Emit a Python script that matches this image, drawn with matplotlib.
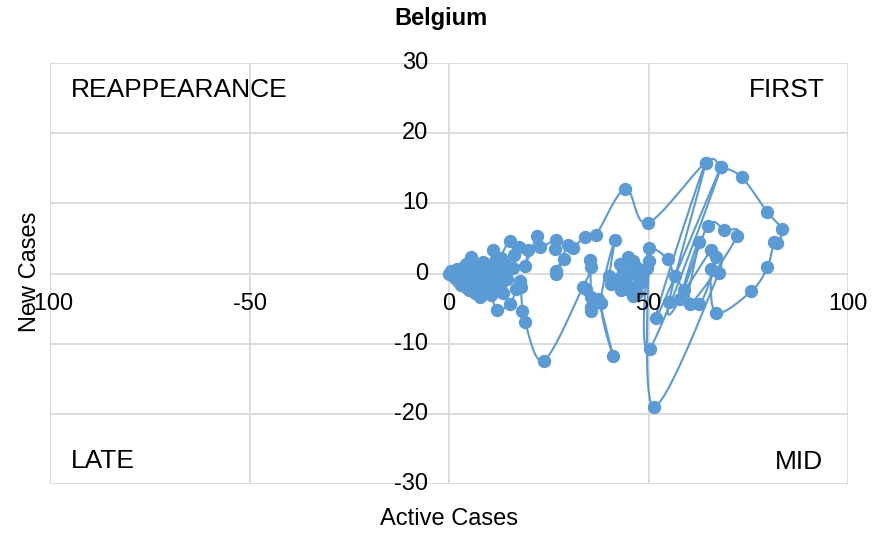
import numpy as np
import matplotlib
matplotlib.use("Agg")
import matplotlib.pyplot as plt

plt.rcParams['font.family'] = ['Liberation Sans', 'DejaVu Sans']

title = "Belgium"
x_label = "Active Cases"
y_label = "New Cases"
x_ticks = [-100, -50, 0, 50, 100]
y_ticks = [-30, -20, -10, 0, 10, 20, 30]
quadrants = ["REAPPEARANCE", "FIRST", "LATE", "MID"]

active = [0.0, 0.6, 1.2, 2.0, 1.8, 2.6, 3.4, 4.0, 4.6, 3.8, 4.4, 5.4, 5.4, 6.2, 6.8, 6.0, 7.2, 7.8, 8.4, 9.2,
          8.6, 7.8, 7.8, 9.0, 10.0, 10.4, 11.1, 11.6, 12.4, 12.0, 11.2, 12.6, 13.4, 14.0, 13.0, 15.3, 16.4, 17.6, 19.8, 19.0,
          22.1, 22.9, 26.8, 26.5, 28.8, 26.9, 26.8, 29.8, 31.1, 34.0, 36.8, 44.2, 49.8, 64.3, 68.2, 73.4, 79.7, 83.4, 82.3, 81.5,
          79.8, 75.8, 66.9, 65.7, 67.6, 51.3, 50.0, 50.3, 68.2, 51.8, 64.3, 55.1, 57.8, 64.8, 69.0, 72.2, 60.3, 62.6, 58.8, 65.7,
          66.9, 62.6, 56.6, 54.9, 50.2, 49.6, 48.8, 47.5, 48.4, 46.9, 46.1, 44.8, 43.6, 42.8, 42.5, 45.2, 44.0, 46.5, 44.4, 47.2,
          46.0, 43.2, 40.7, 40.2, 41.5,
          38.1, 41.1, 37.3, 35.5, 35.7, 34.4, 35.5, 35.4, 35.7, 33.6, 23.8, 19.0, 18.4, 18.0, 17.8, 16.9, 15.3, 12.1, 10.5, 9.0,
          10.6, 12.8, 14.6, 16.0, 13.5, 11.0, 8.5, 6.5, 5.0, 3.0, 2.2, 1.5, 2.8, 4.2, 5.6, 7.0, 9.6, 11.8, 10.2, 8.2,
          6.4, 4.8, 3.4, 1.0]
new_cases = [0.0, 0.4, 0.2, 0.7, -0.3, -0.8, 0.3, 1.0, 0.2, -1.2, -2.0, -1.4, 2.4, 1.0, -0.2, -1.0, -0.6, 0.9, 1.6, 0.6,
             -0.6, -1.8, -3.4, -2.6, -1.2, 0.4, 3.4, 1.8, 0.8, -0.8, -2.2, -1.6, 0.0, 1.4, 2.2, 4.7, 2.6, 3.8, 3.3, 1.0,
             5.3, 3.8, 4.8, 3.5, 2.0, 0.4, 0.0, 4.1, 3.7, 5.2, 5.5, 12.1, 7.2, 15.8, 15.2, 13.7, 8.8, 6.3, 4.3, 4.5,
             0.9, -2.5, -5.6, 0.7, 0.05, -19.0, 1.8, -10.7, 15.2, -6.4, 15.8, -4.1, -3.7, 6.7, 6.2, 5.3, -4.3, 4.5, -2.4, 3.3,
             2.3, -4.3, -0.3, 2.0, 3.7, 0.8, 0.4, -0.5, -1.2, 0.9, 1.8, 2.3, 0.6, 1.4, -0.6, 0.0, -1.0, -1.8, -2.2, -2.8,
             -3.2, -2.4, -1.5, -0.3, 4.8,
             -4.2, -11.7, -3.6, -5.3, -4.8, -2.2, -3.4, 1.9, 0.9, -1.9, -12.4, -6.9, -5.4, -1.9, -1.0, -2.2, -4.3, -5.2, -3.0, -1.6,
             -0.4, 0.6, -0.8, 0.8, -2.8, -2.6, -2.2, -2.8, -2.4, -1.6, -1.0, -0.6, 0.6, 1.4, 0.4, 1.2, 1.0, 0.2, -1.4, -0.8,
             -1.8, -0.9, -0.2, 0.0]

BLUE = "#5B9BD5"
GRID = "#D9D9D9"
W, H = 872, 538

fig = plt.figure(figsize=(W / 100, H / 100), dpi=100)
L, R, T, B = 50, 848, 63, 484
ax = fig.add_axes([L / W, 1 - B / H, (R - L) / W, (B - T) / H])
ax.set_xlim(-100, 100)
ax.set_ylim(-30, 30)
for s in ax.spines.values():
    s.set_visible(False)
ax.set_xticks(x_ticks)
ax.set_yticks(y_ticks)
ax.tick_params(length=0, labelbottom=False, labelleft=False)
ax.grid(True, color=GRID, lw=1.3, zorder=0)


def smooth(px, py, n=16):
    P = np.column_stack([px, py])
    out = [P[0]]
    for i in range(len(P) - 1):
        p0 = P[i - 1] if i > 0 else P[i]
        p1 = P[i]
        p2 = P[i + 1]
        p3 = P[i + 2] if i + 2 < len(P) else P[i + 1]
        c1 = p1 + (p2 - p0) / 6.0
        c2 = p2 - (p3 - p1) / 6.0
        t = np.linspace(0, 1, n)[1:, None]
        seg = ((1 - t) ** 3) * p1 + 3 * ((1 - t) ** 2) * t * c1 + 3 * (1 - t) * t ** 2 * c2 + t ** 3 * p2
        out.extend(seg)
    out = np.array(out)
    return out[:, 0], out[:, 1]


sx, sy = smooth(active, new_cases)
ax.plot(sx, sy, color=BLUE, lw=1.5, zorder=3)
ax.plot(active, new_cases, 'o', color=BLUE, ms=8.6, zorder=4)

fs = 17
for v in x_ticks:
    ax.annotate(str(v), xy=(v, 0), xytext=(0, -30), textcoords='offset pixels',
                ha='center', va='center', fontsize=fs, color='black', zorder=5)
for v in y_ticks:
    ax.annotate(str(v), xy=(0, v), xytext=(-21, 0), textcoords='offset pixels',
                ha='right', va='center', fontsize=fs, color='black', zorder=5)

fig.text(441 / W, 1 - 18 / H, title, ha='center', va='center', fontsize=fs, fontweight='bold')
fig.text(449 / W, 1 - 519 / H, x_label, ha='center', va='center', fontsize=fs)
fig.text(30 / W, 1 - 272 / H, y_label, ha='center', va='center', fontsize=fs, rotation=90)

qs = 19
fig.text(71 / W, 1 - 90 / H, quadrants[0], ha='left', va='center', fontsize=qs)
fig.text(825 / W, 1 - 90 / H, quadrants[1], ha='right', va='center', fontsize=qs)
fig.text(71 / W, 1 - 461 / H, quadrants[2], ha='left', va='center', fontsize=qs)
fig.text(823 / W, 1 - 462 / H, quadrants[3], ha='right', va='center', fontsize=qs)

fig.savefig("out.png", dpi=100)
